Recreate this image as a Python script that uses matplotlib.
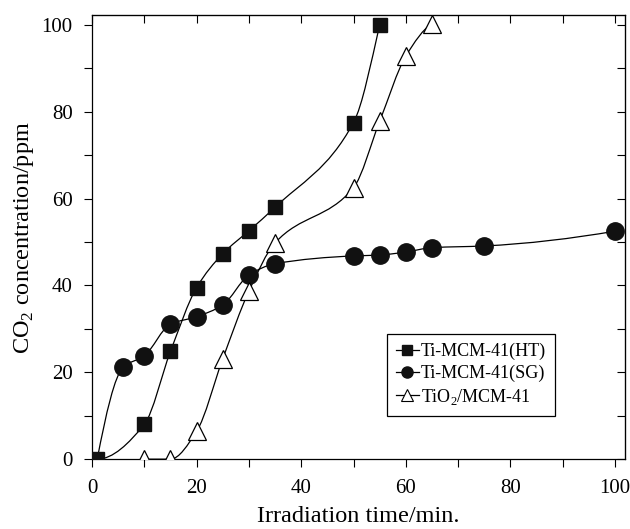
import numpy as np
import matplotlib
matplotlib.use('Agg')
from matplotlib import pyplot as plt
from matplotlib.path import Path
from matplotlib.patches import PathPatch
from matplotlib.ticker import MultipleLocator

plt.rcParams['font.family'] = ['Liberation Serif', 'DejaVu Serif']
plt.rcParams['mathtext.fontset'] = 'custom'
plt.rcParams['mathtext.rm'] = 'Liberation Serif'

# Ti-MCM-41(HT)
ht_x = [1, 10, 15, 20, 25, 30, 35, 50, 55]
ht_y = [0, 8, 24.8, 39.5, 47.3, 52.6, 58, 77.5, 100]
# Ti-MCM-41(SG), first point shares the origin of the HT curve
sg_x = [1, 6, 10, 15, 20, 25, 30, 35, 50, 55, 60, 65, 75, 100]
sg_y = [0, 21.2, 23.8, 31.1, 32.8, 35.5, 42.4, 45, 46.8, 47, 47.7, 48.7, 49.1, 52.5]
# TiO2/MCM-41
ti_x = [10, 15, 20, 25, 30, 35, 50, 55, 60, 65]
ti_y = [0, 0, 6.4, 23.1, 38.7, 49.8, 62.5, 77.8, 92.8, 100.3]


def end_slope(h0, h1, s0, s1):
    d = ((2 * h0 + h1) * s0 - h0 * s1) / (h0 + h1)
    if np.sign(d) != np.sign(s0):
        d = 0.0
    elif np.sign(s0) != np.sign(s1) and abs(d) > abs(3 * s0):
        d = 3 * s0
    return d


def smooth_path(xs, ys):
    # pchip-style hermite curve through the points, given to matplotlib as beziers
    x = np.asarray(xs, float)
    y = np.asarray(ys, float)
    n = len(x)
    h = np.diff(x)
    s = np.diff(y) / h
    d = np.zeros(n)
    for k in range(1, n - 1):
        if s[k - 1] * s[k] <= 0:
            d[k] = 0.0
        else:
            w1 = 2 * h[k] + h[k - 1]
            w2 = h[k] + 2 * h[k - 1]
            d[k] = (w1 + w2) / (w1 / s[k - 1] + w2 / s[k])
    d[0] = end_slope(h[0], h[1], s[0], s[1])
    d[-1] = end_slope(h[-1], h[-2], s[-1], s[-2])
    verts = [(x[0], y[0])]
    codes = [Path.MOVETO]
    for i in range(n - 1):
        verts += [(x[i] + h[i] / 3, y[i] + d[i] * h[i] / 3),
                  (x[i + 1] - h[i] / 3, y[i + 1] - d[i + 1] * h[i] / 3),
                  (x[i + 1], y[i + 1])]
        codes += [Path.CURVE4] * 3
    return Path(verts, codes)


fig = plt.figure(figsize=(6.3, 5.29), dpi=100)
ax = fig.add_axes([0.146, 0.132, 0.846, 0.839])

for xs, ys in [(sg_x, sg_y), (ti_x, ti_y), (ht_x, ht_y)]:
    ax.add_patch(PathPatch(smooth_path(xs, ys), fill=False, edgecolor='black', lw=0.9, zorder=2))

ax.plot(sg_x[1:], sg_y[1:], ls='none', marker='o', ms=12.5, mfc='#111111', mec='#111111', zorder=3)
ax.plot(ti_x, ti_y, ls='none', marker='^', ms=13, mfc='white', mec='black', mew=0.9, zorder=3)
ax.plot(ht_x, ht_y, ls='none', marker='s', ms=10, mfc='#111111', mec='#111111', zorder=4)

# legend proxies
h1, = ax.plot([], [], '-', color='black', lw=0.9, marker='s', ms=7, mfc='#111111', mec='#111111')
h2, = ax.plot([], [], '-', color='black', lw=0.9, marker='o', ms=8, mfc='#111111', mec='#111111')
h3, = ax.plot([], [], '-', color='black', lw=0.9, marker='^', ms=8, mfc='white', mec='black', mew=0.8)
leg = ax.legend([h1, h2, h3], ['Ti-MCM-41(HT)', 'Ti-MCM-41(SG)', r'TiO$_2$/MCM-41'],
                loc='upper left', bbox_to_anchor=(0.553, 0.282), fontsize=13,
                handlelength=1.3, handletextpad=0.1, labelspacing=0.25, borderpad=0.5,
                fancybox=False, framealpha=1, edgecolor='black', borderaxespad=0)
leg.get_frame().set_linewidth(0.9)

ax.set_xlim(0, 101.9)
ax.set_ylim(0, 102.2)
ax.xaxis.set_major_locator(MultipleLocator(20))
ax.xaxis.set_minor_locator(MultipleLocator(10))
ax.yaxis.set_major_locator(MultipleLocator(20))
ax.yaxis.set_minor_locator(MultipleLocator(10))
ax.tick_params(which='both', direction='out', labelsize=15, width=0.8, length=6)
ax.tick_params(which='major', pad=8)
for s in ax.spines.values():
    s.set_linewidth(0.9)

# inward ticks on top and right
top = ax.secondary_xaxis('top')
top.xaxis.set_major_locator(MultipleLocator(10))
top.tick_params(direction='in', length=6, width=0.8, labeltop=False)
right = ax.secondary_yaxis('right')
right.yaxis.set_major_locator(MultipleLocator(10))
right.tick_params(direction='in', length=6, width=0.8, labelright=False)

ax.set_xlabel('Irradiation time/min.', fontsize=17.5, labelpad=6)
ax.set_ylabel(r'CO$_2$ concentration/ppm', fontsize=17.5, labelpad=4)

fig.savefig('out.png', dpi=100)
